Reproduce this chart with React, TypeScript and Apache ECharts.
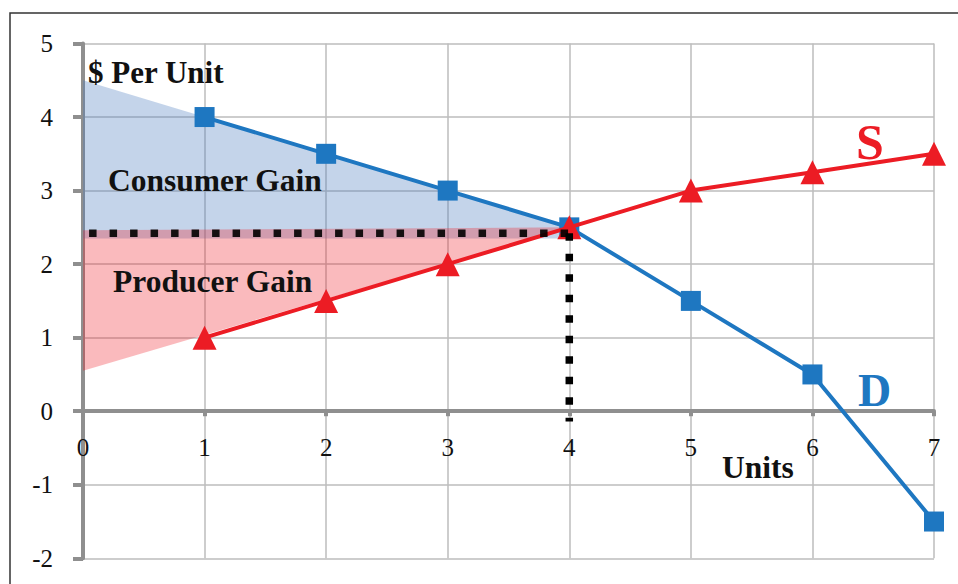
import React, { useEffect, useRef } from "react";
import * as echarts from "echarts";

const units = [1, 2, 3, 4, 5, 6, 7];
const demand = [4, 3.5, 3, 2.5, 1.5, 0.5, -1.5];
const supply = [1, 1.5, 2, 2.5, 3, 3.25, 3.5];
const xTicks = [0, 1, 2, 3, 4, 5, 6, 7];
const yTicks = [-2, -1, 0, 1, 2, 3, 4, 5];
const consumerGainPts = [[0, 4.5], [4, 2.5], [4, 2.35], [0, 2.35]];
const producerGainPts = [[0, 0.55], [4, 2.5], [0, 2.46]];
const priceLinePts = [[0.05, 2.42], [4, 2.42]];
const quantityLinePts = [[4, 2.42], [4, -0.14]];

const SERIF_NAME = "Liberation Serif";
const SERIF = "'Liberation Serif', 'Times New Roman', serif";
const BLUE = "#1E77C1";
const RED = "#EC1C24";

const GRID_TOP = 43.5;
const GRID_BOTTOM = 25.7;
const CHART_H = 584;

function polygonSeries(pts: number[][], fill: string, z: number) {
  return {
    type: "custom",
    coordinateSystem: "cartesian2d",
    data: pts,
    z,
    silent: true,
    renderItem: (params: any, api: any) => {
      if (params.dataIndex !== 0) return null;
      const points = pts.map((p) => api.coord(p));
      return { type: "polygon", shape: { points }, style: { fill } };
    },
  };
}

export default function App() {
  const ref = useRef<HTMLDivElement>(null);
  useEffect(() => {
    if (!ref.current) return;
    const chart = echarts.init(ref.current, undefined, { renderer: "svg" });
    const yMin = yTicks[0];
    const yMax = yTicks[yTicks.length - 1];
    const plotH = CHART_H - GRID_TOP - GRID_BOTTOM;
    const zeroOffset = (plotH * (0 - yMin)) / (yMax - yMin);
    chart.setOption({
      animation: false,
      backgroundColor: "#ffffff",
      grid: {
        left: 83,
        top: GRID_TOP,
        right: 24,
        bottom: GRID_BOTTOM,
        containLabel: false,
        outerBoundsMode: "none",
      },
      xAxis: {
        type: "value",
        min: xTicks[0],
        max: xTicks[xTicks.length - 1],
        interval: 1,
        position: "bottom",
        offset: -zeroOffset,
        axisLine: { onZero: false, lineStyle: { color: "#8F8F8F", width: 4 } },
        axisTick: { show: true, length: 5, lineStyle: { color: "#8F8F8F", width: 4 } },
        axisLabel: { margin: 24, fontFamily: SERIF_NAME, fontSize: 25, color: "#111" },
        splitLine: { show: true, lineStyle: { color: "#BDBDBD", width: 1.5 } },
      },
      yAxis: {
        type: "value",
        min: yMin,
        max: yMax,
        interval: 1,
        axisLine: { show: true, onZero: false, lineStyle: { color: "#8F8F8F", width: 4 } },
        axisTick: { show: true, length: 10, lineStyle: { color: "#8F8F8F", width: 4 } },
        axisLabel: { margin: 30, fontFamily: SERIF_NAME, fontSize: 25, color: "#111" },
        splitLine: { show: true, lineStyle: { color: "#BDBDBD", width: 1.5 } },
      },
      series: [
        polygonSeries(consumerGainPts, "rgba(70,120,190,0.32)", 1),
        polygonSeries(producerGainPts, "rgba(237,28,36,0.3)", 1),
        {
          type: "line",
          data: units.map((u, i) => [u, demand[i]]),
          symbol: "rect",
          symbolSize: 20,
          lineStyle: { color: BLUE, width: 4 },
          itemStyle: { color: BLUE },
          z: 3,
        },
        {
          type: "line",
          data: units.map((u, i) => [u, supply[i]]),
          symbol: "triangle",
          symbolSize: 24,
          lineStyle: { color: RED, width: 4 },
          itemStyle: { color: RED },
          z: 4,
        },
        {
          type: "line",
          data: priceLinePts,
          symbol: "none",
          lineStyle: { color: "#000", width: 7.5, type: [7.5, 13], cap: "butt", opacity: 0.9 },
          z: 5,
        },
        {
          type: "line",
          data: quantityLinePts,
          symbol: "none",
          lineStyle: { color: "#000", width: 7.5, type: [7.5, 13], cap: "butt" },
          z: 5,
        },
      ],
      graphic: [
        {
          type: "rect",
          shape: { x: 10, y: 13, width: 1000, height: 700 },
          style: { fill: "none", stroke: "#333", lineWidth: 1.5 },
          z: 100,
        },
        {
          type: "text",
          x: 88,
          y: 72,
          style: { text: "$ Per Unit", font: `bold 31px ${SERIF}`, fill: "#111", textVerticalAlign: "middle" },
          z: 100,
        },
        {
          type: "text",
          x: 108,
          y: 180,
          style: { text: "Consumer Gain", font: `bold 31.5px ${SERIF}`, fill: "#111", textVerticalAlign: "middle" },
          z: 100,
        },
        {
          type: "text",
          x: 113,
          y: 281,
          style: { text: "Producer Gain", font: `bold 31.5px ${SERIF}`, fill: "#111", textVerticalAlign: "middle" },
          z: 100,
        },
        {
          type: "text",
          x: 722,
          y: 467,
          style: { text: "Units", font: `bold 31.5px ${SERIF}`, fill: "#111", textVerticalAlign: "middle" },
          z: 100,
        },
        {
          type: "text",
          x: 856,
          y: 142,
          style: { text: "S", font: `bold 50px ${SERIF}`, fill: RED, textVerticalAlign: "middle" },
          z: 100,
        },
        {
          type: "text",
          x: 858,
          y: 390,
          style: { text: "D", font: `bold 46px ${SERIF}`, fill: BLUE, textVerticalAlign: "middle" },
          z: 100,
        },
      ],
    });
    return () => chart.dispose();
  }, []);
  return (
    <div
      ref={ref}
      style={{ position: "fixed", left: 0, top: 0, width: 958, height: 584, background: "#fff" }}
    />
  );
}
